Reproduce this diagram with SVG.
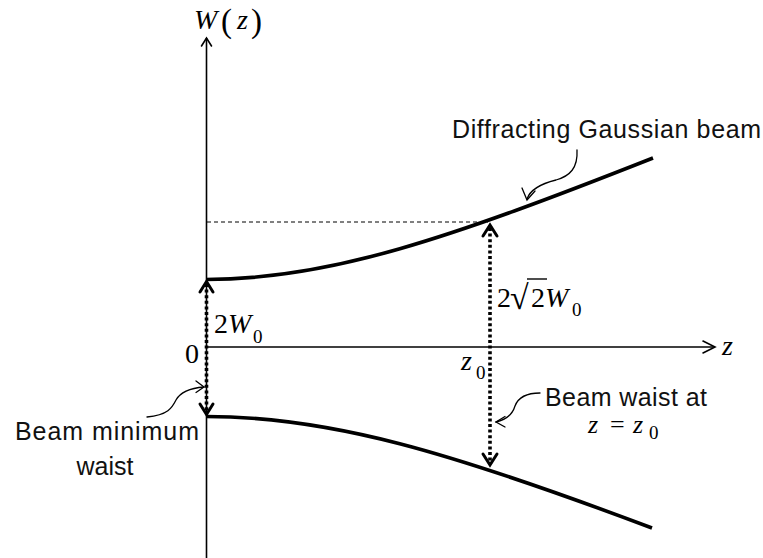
<svg xmlns="http://www.w3.org/2000/svg" width="763" height="558" viewBox="0 0 763 558">
<style>
.axis{stroke:#000;stroke-width:1.6;fill:none}
.beam{stroke:#000;stroke-width:3.6;fill:none;stroke-linecap:butt}
.dot{stroke:#000;stroke-width:3.6;fill:none;stroke-dasharray:3 2.6}
.head{stroke:#000;stroke-width:3;fill:none;stroke-linecap:round;stroke-linejoin:miter}
.thin{stroke:#000;stroke-width:1.3;fill:none;stroke-linecap:round}
.dash{stroke:#000;stroke-width:1;fill:none;stroke-dasharray:4 3}
.m{font-family:"Liberation Serif","Times New Roman",serif;font-size:28px;fill:#000}
.i{font-style:italic}
.sub{font-size:19px}
.s{font-family:"Liberation Sans",Arial,sans-serif;font-size:25px;fill:#111}
</style>
<rect width="763" height="558" fill="#fff"/>
<g id="axes">
<line class="axis" x1="206.5" y1="38" x2="206.5" y2="558"/>
<polyline class="thin" style="stroke-width:1.6" points="201.5,46 206.5,38 211.5,46"/>
<line class="axis" x1="206" y1="347" x2="715" y2="347"/>
<polyline class="thin" style="stroke-width:1.6" points="703,341 715,347 703,353"/>
</g>
<g id="beam-upper"><path class="beam" d="M206,279.5 C330,279.5 450,238 653,158"/></g>
<g id="beam-lower"><path class="beam" d="M206,416.5 C330,416.5 450,452 652,528"/></g>
<g id="connectors">
<line class="dash" x1="207" y1="222" x2="488" y2="222"/>
<line class="dot" x1="206.5" y1="284" x2="206.5" y2="412"/>
<polyline class="head" points="200,292 206.5,281.5 213,292"/>
<polyline class="head" points="200,404 206.5,414.5 213,404"/>
<line class="dot" x1="490" y1="228" x2="490" y2="462"/>
<polyline class="head" points="483,236 490,225 497,236"/>
<polyline class="head" points="483,454 490,465 497,454"/>
<path class="thin" d="M577,150 C578,168 570,176 556,180 C540,184 530,190 527,199"/>
<polyline class="thin" points="522,188 527,200 535,191"/>
<path class="thin" d="M540,393 C525,393 518,398 515,406 C512,416 505,420 496,422"/>
<polyline class="thin" points="505,416.5 496,422 505,427"/>
<path class="thin" d="M147,417 C168,415 172,408 176,400 C181,391 192,388 204,387"/>
<polyline class="thin" points="196,381 204,387 196,392.5"/>
</g>
<g id="labels">
<text class="m i" x="194" y="29">W</text>
<text class="m" x="221" y="32" style="font-size:33px">(</text>
<text class="m i" x="237" y="29">z</text>
<text class="m" x="251" y="32" style="font-size:33px">)</text>
<text class="m i" x="722" y="355">z</text>
<text class="m" x="185" y="363">0</text>
<text class="m" x="214" y="333">2<tspan class="i">W</tspan></text>
<text class="m sub" x="253" y="343">0</text>
<text class="m i" x="461" y="370">z</text>
<text class="m sub" x="476" y="379">0</text>
<text class="m" x="497" y="307">2</text>
<text class="m" x="510" y="309" style="font-size:34px">√</text>
<line x1="527" y1="279" x2="547" y2="279" stroke="#000" stroke-width="1.4"/>
<text class="m" x="531" y="307">2<tspan class="i">W</tspan></text>
<text class="m sub" x="572" y="316">0</text>
<text class="s" x="452" y="138" textLength="309">Diffracting Gaussian beam</text>
<text class="s" x="545" y="406" textLength="162">Beam waist at</text>
<text class="m i" x="588" y="433" style="font-size:26px">z</text>
<text class="m" x="610" y="433" style="font-size:26px">=</text>
<text class="m i" x="633" y="433" style="font-size:26px">z</text>
<text class="m sub" x="649" y="439">0</text>
<text class="s" x="107" y="440" text-anchor="middle" textLength="184">Beam minimum</text>
<text class="s" x="105" y="475" text-anchor="middle">waist</text>
</g>
</svg>
